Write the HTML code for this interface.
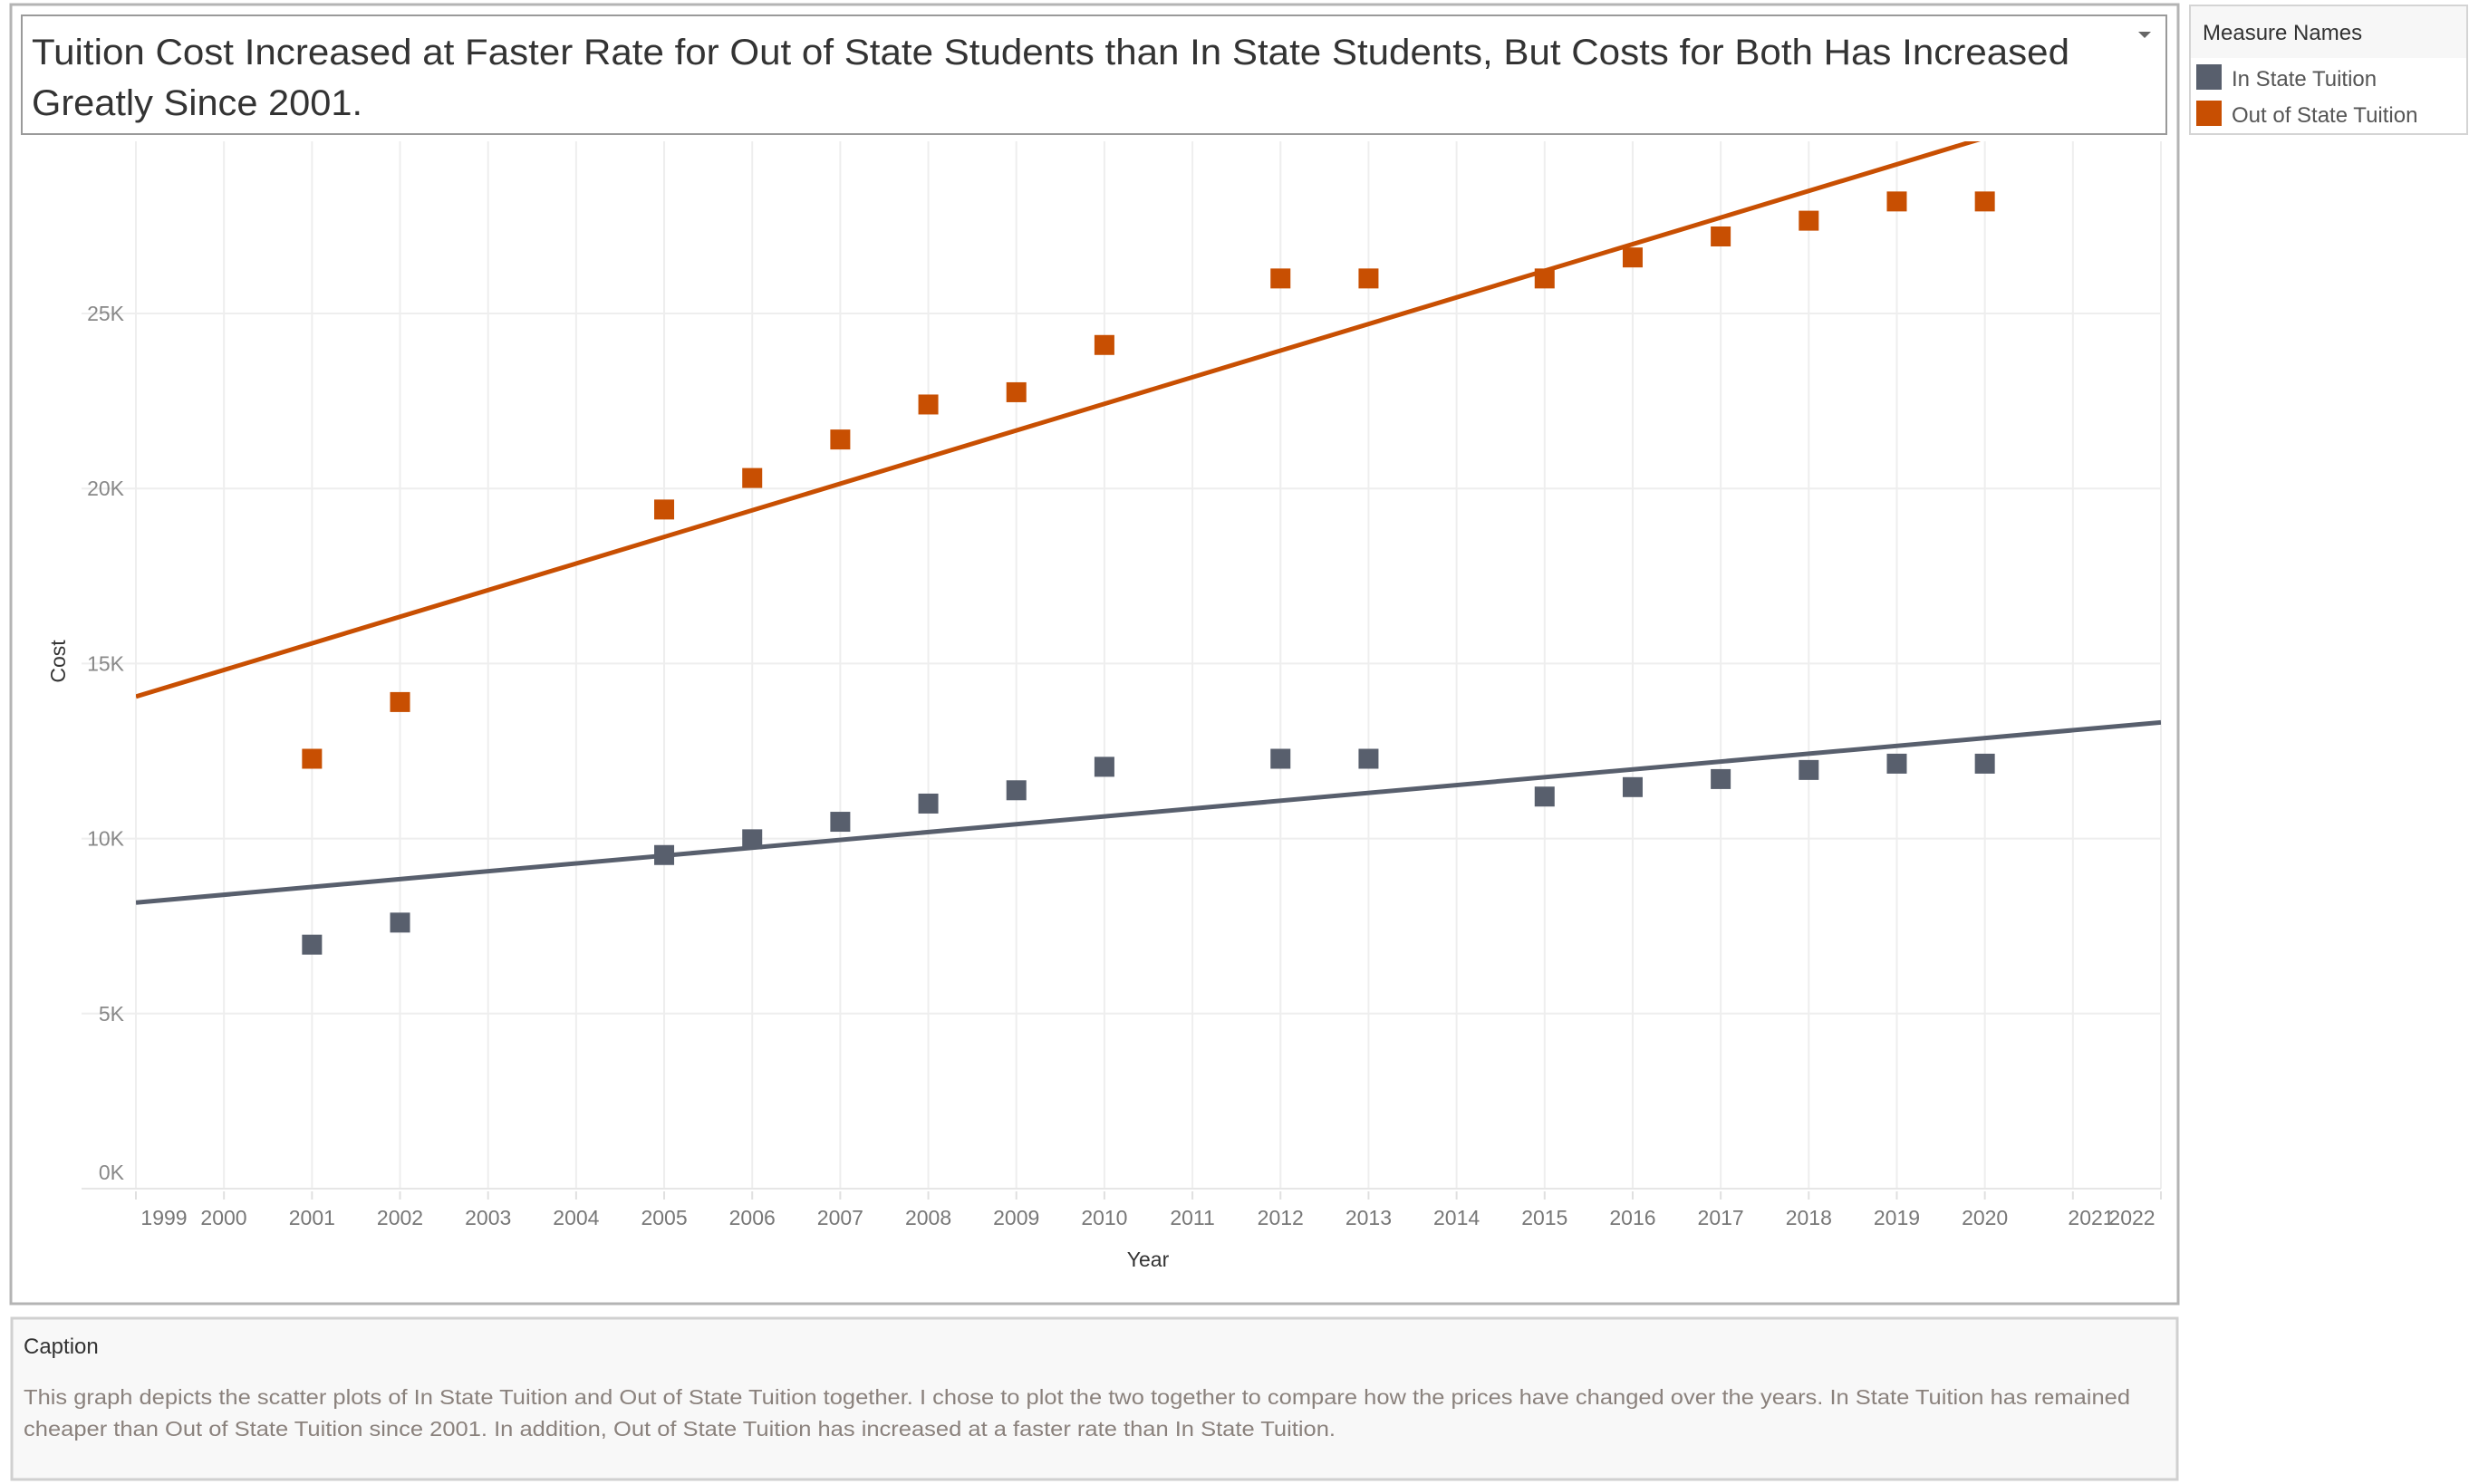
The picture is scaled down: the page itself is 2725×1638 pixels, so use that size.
<!DOCTYPE html>
<html><head><meta charset="utf-8"><style>
html,body{margin:0;padding:0;background:#fff;}
svg{display:block;font-family:"Liberation Sans",sans-serif;}
</style></head><body>
<svg id="chart" width="2725" height="1638" viewBox="0 0 2725 1638" xmlns="http://www.w3.org/2000/svg">
<rect x="12" y="5" width="2392" height="1434" fill="#fff" stroke="#b4b4b4" stroke-width="3"/>
<rect x="24" y="17" width="2367" height="131" fill="#fff" stroke="#9a9a9a" stroke-width="2"/>
<text x="35" y="71" font-size="40" fill="#333" textLength="2249" lengthAdjust="spacingAndGlyphs">Tuition Cost Increased at Faster Rate for Out of State Students than In State Students, But Costs for Both Has Increased</text>
<text x="35" y="127" font-size="40" fill="#333" textLength="365" lengthAdjust="spacingAndGlyphs">Greatly Since 2001.</text>
<path d="M2360 35 L2374 35 L2367 42 Z" fill="#666"/>

<g>
<rect x="2417" y="6" width="306" height="142" fill="#fff" stroke="#d4d4d4" stroke-width="2"/>
<rect x="2418" y="7" width="304" height="57" fill="#f7f7f7"/>
<text x="2431" y="44" font-size="24" fill="#333">Measure Names</text>
<rect x="2424" y="71" width="28" height="28" fill="#585f6d"/>
<text x="2463" y="95" font-size="24" fill="#555">In State Tuition</text>
<rect x="2424" y="111" width="28" height="28" fill="#c84f02"/>
<text x="2463" y="135" font-size="24" fill="#555">Out of State Tuition</text>
</g>

<g id="grid"></g>
<g id="axes"></g>
<g id="marks"></g>

<text transform="translate(72,730) rotate(-90)" font-size="23" fill="#333" text-anchor="middle">Cost</text>
<text x="1267" y="1398" font-size="23" fill="#333" text-anchor="middle">Year</text>

<g>
<rect x="13" y="1455" width="2390" height="178" fill="#f8f8f8" stroke="#d0d0d0" stroke-width="3"/>
<text x="26" y="1494" font-size="24" fill="#333">Caption</text>
<text x="26" y="1550" font-size="23" fill="#8a817c" textLength="2325" lengthAdjust="spacingAndGlyphs">This graph depicts the scatter plots of In State Tuition and Out of State Tuition together. I chose to plot the two together to compare how the prices have changed over the years. In State Tuition has remained</text>
<text x="26" y="1585" font-size="23" fill="#8a817c" textLength="1448" lengthAdjust="spacingAndGlyphs">cheaper than Out of State Tuition since 2001. In addition, Out of State Tuition has increased at a faster rate than In State Tuition.</text>
</g>
</svg>
<script>
const years = [2001,2002,2005,2006,2007,2008,2009,2010,2012,2013,2015,2016,2017,2018,2019,2020];
const inState = [6970,7600,9530,9980,10480,11000,11380,12050,12280,12280,11200,11470,11700,11960,12140,12140];
const outState = [12280,13900,19400,20300,21400,22400,22750,24100,26000,26000,26000,26600,27200,27650,28200,28200];
const yTicks = [0,5000,10000,15000,20000,25000];
const yTickLabels = ["0K","5K","10K","15K","20K","25K"];
const xGridYears = [1999,2000,2001,2002,2003,2004,2005,2006,2007,2008,2009,2010,2011,2012,2013,2014,2015,2016,2017,2018,2019,2020,2021,2022];

const NS = "http://www.w3.org/2000/svg";
const L = 150, R = 2385, TOP = 156, BOT = 1312;
const x = yr => L + (yr - 1999) / (2022 - 1999) * (R - L);
const y = v => BOT - v / 25000 * (BOT - 346);
function mk(tag, attrs, parent) {
  const e = document.createElementNS(NS, tag);
  for (const k in attrs) e.setAttribute(k, attrs[k]);
  parent.appendChild(e);
  return e;
}
const grid = document.getElementById('grid'), axes = document.getElementById('axes'), marks = document.getElementById('marks');
xGridYears.forEach(yr => {
  const g = mk('line', {x1: x(yr), x2: x(yr), y1: TOP, y2: BOT, stroke: '#eeeeee', 'stroke-width': 2}, grid);
  
  
  const t = mk('line', {x1: x(yr), x2: x(yr), y1: BOT + 3, y2: BOT + 12, stroke: '#e0e0e0', 'stroke-width': 2}, axes);
  
  
  let lx = x(yr);
  if (yr === 1999) lx = 181;
  if (yr === 2000) lx = 247;
  if (yr === 2021) lx = 2308;
  if (yr === 2022) lx = 2353;
  const lb = mk('text', {x: lx, y: 1352, 'font-size': 23, fill: '#777', 'text-anchor': 'middle'}, axes);
  lb.textContent = yr;
  
  
});
yTicks.forEach((v, i) => {
  const g = mk('line', {x1: L - 60, x2: R, y1: y(v), y2: y(v), stroke: v === 0 ? '#e6e6e6' : '#eeeeee', 'stroke-width': 2}, grid);
  
  
  const ly = v === 0 ? y(v) - 10 : y(v) + 8;
  const lb = mk('text', {x: 137, y: ly, 'font-size': 23, fill: '#888', 'text-anchor': 'end'}, axes);
  lb.textContent = yTickLabels[i];
  
  
});
function fit(xs, ys) {
  const n = xs.length, mx = xs.reduce((a,b)=>a+b)/n, my = ys.reduce((a,b)=>a+b)/n;
  let sxy = 0, sxx = 0;
  for (let i = 0; i < n; i++) { sxy += (xs[i]-mx)*(ys[i]-my); sxx += (xs[i]-mx)**2; }
  const b = sxy / sxx; return [my - b*mx, b];
}
mk('clipPath', {id: 'plotclip'}, marks);
mk('rect', {x: L, y: TOP, width: R - L, height: BOT - TOP}, marks.lastChild);
function series(vals, color, name) {
  const [a, b] = fit(years, vals);
  const ln = mk('line', {x1: x(1999), y1: y(a + b*1999), x2: x(2022), y2: y(a + b*2022), stroke: color, 'stroke-width': 5, 'clip-path': 'url(#plotclip)'}, marks);
  
  
  years.forEach((yr, i) => {
    const r = mk('rect', {x: x(yr) - 11, y: y(vals[i]) - 11, width: 22, height: 22, fill: color}, marks);
    
    
  });
}
series(inState, '#585f6d', 'in-state');
series(outState, '#c84f02', 'out-of-state');
</script>
</body></html>
